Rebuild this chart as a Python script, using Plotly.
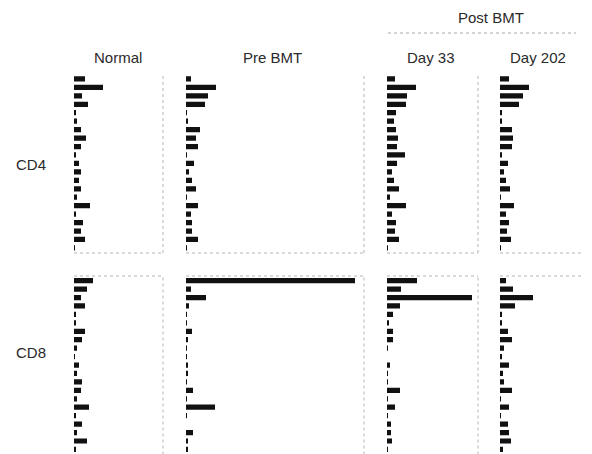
import plotly.graph_objects as go

W, H = 592, 454
OFF = 8  # page body margin offset

conditions = ["Normal", "Pre BMT", "Day 33", "Day 202"]
cell_types = ["CD4", "CD8"]
clones = [f"V{i+1}" for i in range(21)]

# Relative clonotype frequencies (arbitrary units)
cd4_normal = [11, 29, 8, 14, 2, 3, 7, 12, 7, 2, 5, 7, 5, 7, 3, 16, 2, 9, 7, 11, 1]
cd4_pre_bmt = [5, 30, 22, 19, 1, 2, 14, 10, 12, 1, 8, 3, 6, 10, 1, 12, 5, 6, 6, 12, 1]
cd4_day33 = [8, 29, 20, 19, 9, 7, 9, 11, 10, 18, 10, 5, 7, 12, 3, 19, 5, 9, 8, 12, 1]
cd4_day202 = [9, 29, 23, 19, 2, 2, 12, 13, 12, 2, 8, 4, 6, 10, 1, 14, 6, 9, 7, 11, 1]

cd8_normal = [19, 13, 7, 11, 2, 2, 11, 8, 3, 1, 5, 3, 8, 7, 3, 15, 2, 8, 3, 13, 2]
cd8_pre_bmt = [169, 5, 20, 3, 1, 1, 6, 2, 1, 0.5, 2, 2, 1, 7, 1, 29, 1, 0, 7, 2, 2]
cd8_day33 = [30, 14, 85, 13, 6, 2, 6, 6, 1, 0, 3, 1, 1, 13, 1, 8, 0.5, 4, 4, 5, 1]
cd8_day202 = [6, 13, 33, 15, 2, 2, 8, 12, 4, 2, 9, 3, 4, 12, 1, 9, 1, 8, 9, 11, 3]

axis_max = [89, 178, 91, 90]

data = {
    ("CD4", 0): cd4_normal, ("CD4", 1): cd4_pre_bmt, ("CD4", 2): cd4_day33, ("CD4", 3): cd4_day202,
    ("CD8", 0): cd8_normal, ("CD8", 1): cd8_pre_bmt, ("CD8", 2): cd8_day33, ("CD8", 3): cd8_day202,
}


def fx(px):
    return (px - OFF) / W


def fy(py):
    return 1 - (py - OFF) / H


# layout in screen pixels
col_px = [(74, 163), (186, 364), (387, 478), (500, 590)]
row_px = [(74.3, 253), (276, 454.5)]

fig = go.Figure()
layout = {}
shapes = []
idx = 0
for r, ct in enumerate(cell_types):
    for c in range(4):
        idx += 1
        xa = "x" if idx == 1 else f"x{idx}"
        ya = "y" if idx == 1 else f"y{idx}"
        fig.add_trace(go.Bar(
            x=data[(ct, c)], y=clones, orientation="h",
            marker=dict(color="#111111", line=dict(width=0)),
            width=0.62, xaxis=xa, yaxis=ya, showlegend=False,
        ))
        x0, x1 = col_px[c]
        y0, y1 = row_px[r]
        xd = [fx(x0), fx(x1)]
        yd = [max(0, fy(y1)), fy(y0)]
        layout["xaxis" if idx == 1 else f"xaxis{idx}"] = dict(
            domain=xd, range=[0, axis_max[c]], showgrid=False, zeroline=False,
            showticklabels=False, ticks="", showline=False,
            anchor=ya,
        )
        layout["yaxis" if idx == 1 else f"yaxis{idx}"] = dict(
            domain=yd, range=[20.6, -0.55], showgrid=False, zeroline=False,
            showticklabels=False, ticks="", showline=False,
            anchor=xa, type="category", categoryorder="array", categoryarray=clones,
        )
        xr = f"{xa} domain"
        yr = f"{ya} domain"
        dot = dict(color="#b5b5b5", width=1, dash="dot")
        shapes.append(dict(type="line", xref=xr, yref=yr, x0=1, x1=1, y0=0, y1=1, line=dot))
        if r == 0:
            shapes.append(dict(type="line", xref=xr, yref=yr, x0=0, x1=1, y0=0, y1=0, line=dot))
        else:
            shapes.append(dict(type="line", xref=xr, yref=yr, x0=0, x1=1, y0=1, y1=1, line=dot))

# Post BMT bracket line
shapes.append(dict(type="line", xref="paper", yref="paper",
                   x0=fx(388), x1=fx(576), y0=fy(33), y1=fy(33),
                   line=dict(color="#a8a8a8", width=1, dash="dot")))

font = dict(family="Liberation Sans, Arial, sans-serif", size=15, color="#2a2a2a")
annotations = []
for c, name in enumerate(conditions):
    cx = {0: 118, 1: 272, 2: 431, 3: 538}[c]
    annotations.append(dict(text=name, x=fx(cx), y=fy(57), xref="paper", yref="paper",
                            showarrow=False, font=font, xanchor="center", yanchor="middle"))
annotations.append(dict(text="Post BMT", x=fx(491), y=fy(17), xref="paper", yref="paper",
                        showarrow=False, font=font, xanchor="center", yanchor="middle"))
annotations.append(dict(text="CD4", x=fx(31), y=fy(164), xref="paper", yref="paper",
                        showarrow=False, font=font, xanchor="center", yanchor="middle"))
annotations.append(dict(text="CD8", x=fx(31), y=fy(352), xref="paper", yref="paper",
                        showarrow=False, font=font, xanchor="center", yanchor="middle"))

fig.update_layout(
    width=W, height=H,
    margin=dict(l=0, r=0, t=0, b=0),
    paper_bgcolor="white", plot_bgcolor="white",
    bargap=0.38,
    shapes=shapes, annotations=annotations,
    **layout,
)

fig.write_html("out.html")
